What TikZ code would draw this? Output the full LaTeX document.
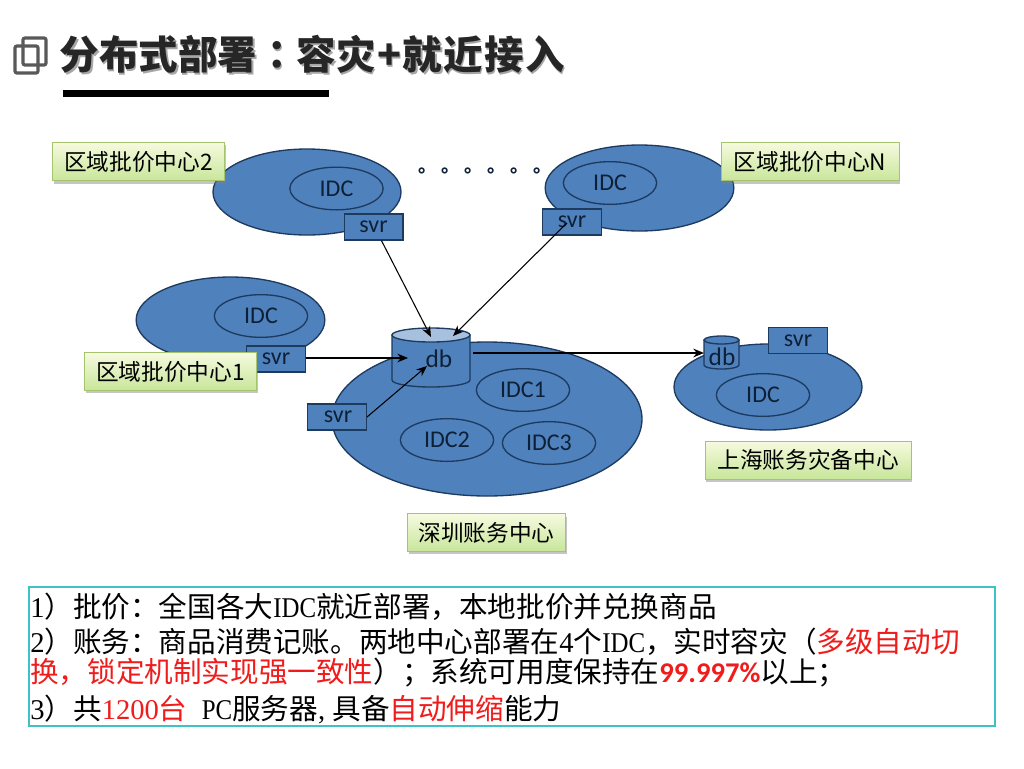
\documentclass[tikz,border=0pt]{standalone}
\usepackage{fontspec}
\setmainfont{Noto Sans CJK SC}
\newfontfamily\tcf{Noto Sans CJK TC}
\newfontfamily\calf{Carlito}
\newfontfamily\latd{Liberation Serif}
\newfontfamily\lats[FakeStretch=0.87]{Liberation Serif}
\usetikzlibrary{arrows.meta,shapes.geometric,shadows,calc}
\definecolor{blu}{HTML}{4F81BD}
\definecolor{blu2}{HTML}{A7C0DE}
\definecolor{edge}{HTML}{1D3A5F}
\definecolor{ink}{HTML}{0E2036}
\definecolor{lab1}{HTML}{F6FADF}
\definecolor{lab2}{HTML}{C8E69A}
\definecolor{labe}{HTML}{A6C46E}
\definecolor{frame}{HTML}{3FC1C9}
\definecolor{redt}{HTML}{F01C1C}
\newcommand\szb{\fontsize{21.45pt}{21.45pt}\selectfont}
\newcommand\szt{\fontsize{29.6pt}{29.6pt}\selectfont}
\newcommand\R[1]{\textcolor{redt}{#1}}
\newcommand\D[1]{{\latd #1}}
\newcommand\Lt[1]{{\lats #1}}
\newcommand\titletext{分布式部署{\tcf\bfseries ：}容灾\kern1.5pt+\kern.8pt就\kern1pt近\kern1pt接\kern1pt入}
\tikzset{
 x=0.75pt,y=-0.75pt,
 zone/.style={draw=edge,line width=1pt,fill=blu,ellipse,inner sep=0pt},
 idc/.style={draw=edge,line width=1pt,fill=blu,ellipse,inner sep=0pt,minimum width=70pt,minimum height=32pt,text=ink,font=\calf\fontsize{18pt}{18pt}\selectfont},
 svrbox/.style={draw=edge,line width=1pt,fill=blu,inner sep=0pt,minimum width=44pt,minimum height=19.5pt,text=ink,font=\calf\fontsize{18pt}{18pt}\selectfont},
 labelbox/.style={draw=labe,line width=.6pt,inner sep=0pt,shading angle=-20,top color=lab1,bottom color=lab2,font=\fontsize{17pt}{17pt}\selectfont,text=black,drop shadow={shadow xshift=1pt,shadow yshift=-2pt,opacity=.45}},
 arr/.style={-{Stealth[length=8pt,width=6.5pt]},line width=.8pt,black},
 txt/.style={anchor=base west,inner sep=0pt,font=\szb,text=black},
 dbbody/.style={draw=edge,line width=1pt,fill=blu},
 dbtop/.style={draw=edge,line width=1pt,fill=blu2},
}
\begin{document}
\begin{tikzpicture}
\useasboundingbox (0,0) rectangle (1024,768);
\fill[white] (0,0) rectangle (1024,768);
% icon
\draw[draw=black!65,line width=2.4pt,rounded corners=1.5pt] (23,38) rectangle (46,65);
\draw[draw=black!65,line width=2.4pt,rounded corners=1.5pt] (15,46) rectangle (38,73);
% title
\node[anchor=base west,inner sep=0pt,text=black!35,font=\bfseries\szt] (titleshadow) at (61,71) {\titletext};
\node[anchor=base west,inner sep=0pt,text=black!85,font=\bfseries\szt] (title) at (59.5,69.5) {\titletext};
\fill[black] (63,90) rectangle (329,97);
% zones
\node[zone,minimum width=141pt,minimum height=64.5pt] (z2) at (307,192) {};
\node[zone,minimum width=141.5pt,minimum height=64.5pt] (zn) at (639.5,188) {};
\node[zone,minimum width=141.5pt,minimum height=64.5pt] (z1) at (230.5,320) {};
\node[zone,minimum width=232.5pt,minimum height=115.5pt] (zs) at (487,419) {};
\node[zone,minimum width=141pt,minimum height=64.5pt] (zh) at (768,387) {};
% idcs
\node[idc] (i2) at (336.5,188.5) {IDC};
\node[idc] (in) at (610,183) {IDC};
\node[idc] (i1) at (261,316) {IDC};
\node[idc] (is1) at (523,390) {IDC1};
\node[idc] (is2) at (447,440) {IDC2};
\node[idc] (is3) at (549,443) {IDC3};
\node[idc] (ih) at (763,395) {IDC};
% servers
\node[svrbox] (s2) at (373.5,227) {svr};
\node[svrbox] (sn) at (572,222) {svr};
\node[svrbox] (s1) at (276,359) {svr};
\node[svrbox] (sm) at (337,417) {\kern1.5pt svr};
\node[svrbox] (sh) at (798,340.5) {svr};
% db large
\draw[dbbody] (392,335) -- (392,380) arc[x radius=29.25pt,y radius=5.25pt,start angle=180,end angle=360] -- (470,335) -- cycle;
\draw[dbtop] (431,335) ellipse[x radius=29.25pt,y radius=5.25pt];
\node[inner sep=0pt,text=ink,font=\calf\fontsize{19pt}{19pt}\selectfont] (dbt) at (439,359) {db};
% db small
\draw[dbbody] (704,340) -- (704,365) arc[x radius=13.1pt,y radius=3pt,start angle=180,end angle=360] -- (739,340) -- cycle;
\draw[dbtop,fill=blu] (721.5,340) ellipse[x radius=13.1pt,y radius=3pt];
\node[inner sep=0pt,text=ink,font=\calf\fontsize{19pt}{19pt}\selectfont] (dbht) at (722,357) {db};
% connector ends
\coordinate (e2) at (431,337);
\coordinate (en) at (453,336);
\coordinate (e1) at (408,358);
\coordinate (em) at (427,366);
\coordinate (ed) at (473,353);
\coordinate (edh) at (704,353);
\coordinate (sn0) at (567,223);
\draw[arr] (s2.south) ++(8,0) -- (e2);
\draw[arr] (sn0) -- (en);
\draw[arr] (s1.east |- e1) -- (e1);
\draw[arr] (sm.east) -- (em);
\draw[-{Stealth[length=8pt,width=6.5pt]},line width=1.6pt,black] (ed) -- (edh);
% dots
\node[anchor=base west,inner sep=0pt,font=\bfseries\fontsize{14pt}{14pt}\selectfont,text=ink] (dots) at (418.5,172.5) {。\kern3.2pt。\kern3.2pt。\kern3.2pt。\kern3.2pt。\kern3.2pt。};
% labels
\node[labelbox,minimum width=129.5pt,minimum height=29pt] (l2) at (138.5,161.5) {区域批价中心2};
\node[labelbox,minimum width=133.5pt,minimum height=29pt] (ln) at (810,161.5) {区域批价中心N};
\node[labelbox,minimum width=129.5pt,minimum height=28pt] (l1) at (170.5,371.5) {区域批价中心1};
\node[labelbox,minimum width=154.5pt,minimum height=28.5pt] (lh) at (808,460) {上海账务灾备中心};
\node[labelbox,minimum width=119pt,minimum height=28pt] (ls) at (486.5,532.5) {深圳账务中心};
% text box
\draw[draw=frame,line width=2pt] (29,587) rectangle (995,726);
\node[txt] (t1) at (30,617) {\D{1}）批价：全国各大\Lt{IDC}就近部署，本地批价并兑换商品};
\node[txt] (t2) at (30,652) {\D{2}）账务：商品消费记账。两地中心部署在\D{4}个\Lt{IDC}，实时容灾（\R{多级自动切}};
\node[txt] (t3) at (30,682) {\R{换，锁定机制实现强一致性}）；系统可用度保持在\R{\calf\bfseries 99.997\%}以上；};
\node[txt] (t4) at (30,719) {\D{3}）共\R{\D{1200}台}\hspace{.5em}\Lt{PC}服务器\D{,}\hspace{.25em}具备\R{自动伸缩}能力};
\end{tikzpicture}
\end{document}
